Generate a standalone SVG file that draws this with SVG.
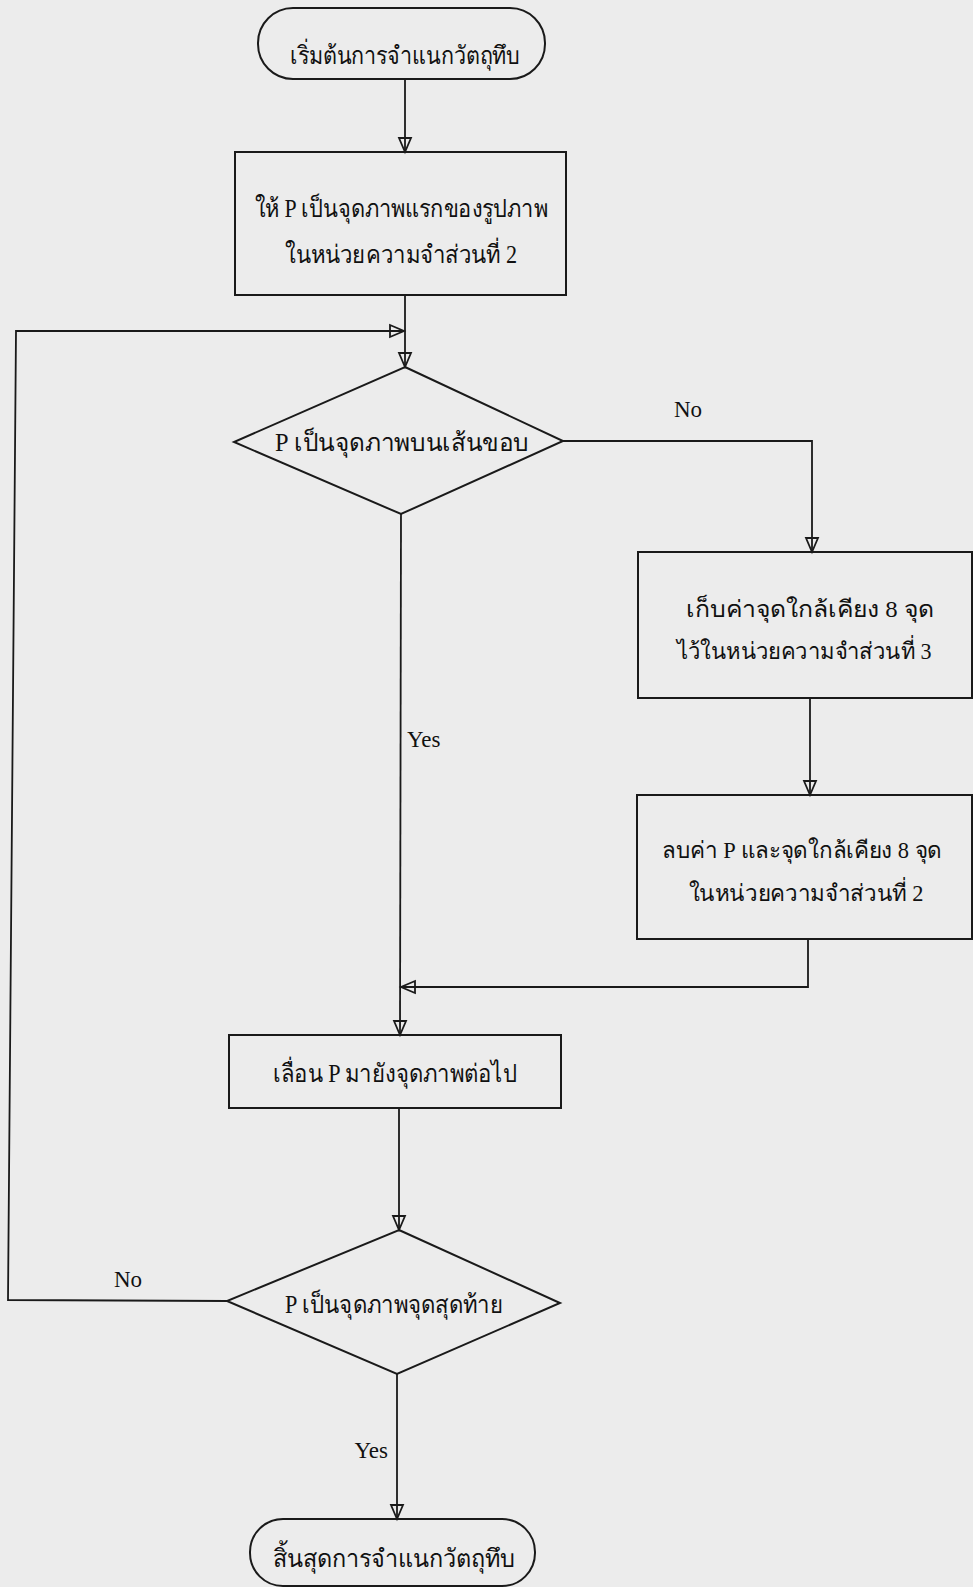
<svg xmlns="http://www.w3.org/2000/svg" width="973" height="1587" viewBox="0 0 973 1587">
<style>
.bg{fill:#ececec}
.shape{fill:none;stroke:#1a1a1a;stroke-width:2}
.conn{fill:none;stroke:#1a1a1a;stroke-width:1.8}
.t{font-family:"Liberation Serif","Noto Sans",serif;font-size:25px;fill:#111;text-anchor:middle}
.s{font-size:23px}
.lbl{font-family:"Liberation Serif",serif;font-size:23px;fill:#111}
</style>
<defs>
<marker id="arr" markerUnits="userSpaceOnUse" markerWidth="18" markerHeight="16" viewBox="0 0 18 16" refX="15" refY="8" orient="auto">
<path d="M1,2 L15,8 L1,14 Z" fill="none" stroke="#1a1a1a" stroke-width="1.8"/>
</marker>
</defs>
<rect class="bg" x="0" y="0" width="973" height="1587"/>

<g id="connectors">
<line class="conn" x1="405" y1="79" x2="405" y2="152" marker-end="url(#arr)"/>
<line class="conn" x1="405" y1="295" x2="405" y2="367" marker-end="url(#arr)"/>
<polyline class="conn" points="227,1301 8,1300 16,331 404,331" marker-end="url(#arr)"/>
<polyline class="conn" points="563,441 812,441 812,552" marker-end="url(#arr)"/>
<line class="conn" x1="810" y1="698" x2="810" y2="795" marker-end="url(#arr)"/>
<polyline class="conn" points="808,939 808,987 401,987" marker-end="url(#arr)"/>
<line class="conn" x1="401" y1="514" x2="400" y2="1035" marker-end="url(#arr)"/>
<line class="conn" x1="399" y1="1108" x2="399" y2="1230" marker-end="url(#arr)"/>
<line class="conn" x1="397" y1="1374" x2="397" y2="1519" marker-end="url(#arr)"/>
<text class="lbl" x="688" y="417" text-anchor="middle">No</text>
<text class="lbl" x="407" y="747">Yes</text>
<text class="lbl" x="128" y="1287" text-anchor="middle">No</text>
<text class="lbl" x="388" y="1458" text-anchor="end">Yes</text>
</g>

<g id="start">
<rect class="shape" x="258" y="8" width="287" height="71" rx="35" ry="35"/>
<text class="t" x="405" y="64" textLength="230" lengthAdjust="spacingAndGlyphs">เริ่มต้นการจำแนกวัตถุทึบ</text>
</g>

<g id="init">
<rect class="shape" x="235" y="152" width="331" height="143"/>
<text class="t" x="401" y="217" textLength="293" lengthAdjust="spacingAndGlyphs">ให้ P เป็นจุดภาพแรกของรูปภาพ</text>
<text class="t" x="401" y="263" textLength="232" lengthAdjust="spacingAndGlyphs">ในหน่วยความจำส่วนที่ 2</text>
</g>

<g id="dec1">
<polygon class="shape" points="405,367 563,441 401,514 234,442"/>
<text class="t" x="402" y="451" textLength="254" lengthAdjust="spacingAndGlyphs">P เป็นจุดภาพบนเส้นขอบ</text>
</g>

<g id="store">
<rect class="shape" x="638" y="552" width="334" height="146"/>
<text class="t s" x="810" y="617" textLength="248" lengthAdjust="spacingAndGlyphs">เก็บค่าจุดใกล้เคียง 8 จุด</text>
<text class="t s" x="804" y="659" textLength="255" lengthAdjust="spacingAndGlyphs">ไว้ในหน่วยความจำส่วนที่ 3</text>
</g>

<g id="erase">
<rect class="shape" x="637" y="795" width="335" height="144"/>
<text class="t s" x="802" y="858" textLength="280" lengthAdjust="spacingAndGlyphs">ลบค่า P และจุดใกล้เคียง 8 จุด</text>
<text class="t s" x="806" y="901" textLength="235" lengthAdjust="spacingAndGlyphs">ในหน่วยความจำส่วนที่ 2</text>
</g>

<g id="move">
<rect class="shape" x="229" y="1035" width="332" height="73"/>
<text class="t" x="395" y="1082" textLength="244" lengthAdjust="spacingAndGlyphs">เลื่อน P มายังจุดภาพต่อไป</text>
</g>

<g id="dec2">
<polygon class="shape" points="399,1230 560,1303 397,1374 227,1301"/>
<text class="t" x="394" y="1313" textLength="218" lengthAdjust="spacingAndGlyphs">P เป็นจุดภาพจุดสุดท้าย</text>
</g>

<g id="end">
<rect class="shape" x="250" y="1519" width="285" height="67" rx="33" ry="33"/>
<text class="t" x="394" y="1567" textLength="243" lengthAdjust="spacingAndGlyphs">สิ้นสุดการจำแนกวัตถุทึบ</text>
</g>
</svg>
